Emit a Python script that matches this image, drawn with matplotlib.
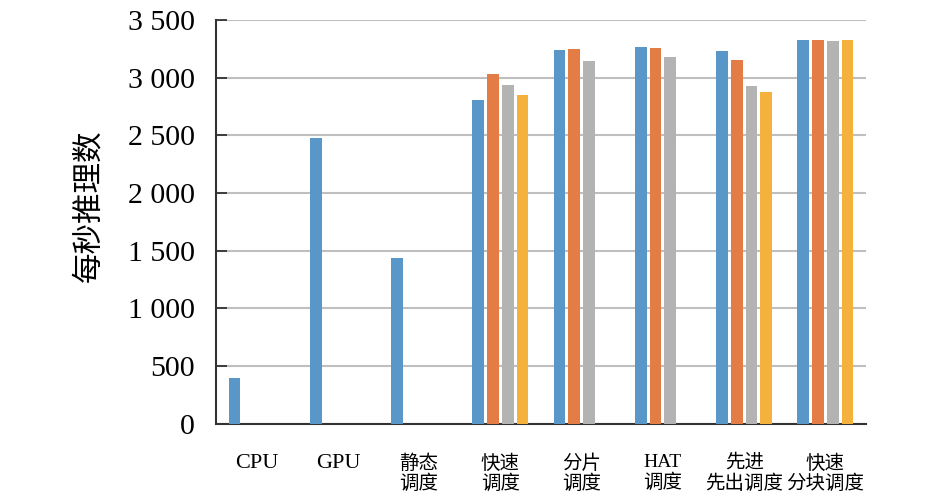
import numpy as np
import matplotlib.pyplot as plt
from matplotlib.ticker import FuncFormatter

plt.rcParams["font.family"] = ["Liberation Serif", "Noto Sans CJK SC"]

categories = ["CPU", "GPU", "静态\n调度", "快速\n调度", "分片\n调度", "HAT\n调度", "先进\n先出调度", "快速\n分块调度"]

# four series per category; NaN where no bar is drawn
series_a = [395, 2478, 1440, 2806, 3243, 3263, 3231, 3324]
series_b = [np.nan, np.nan, np.nan, 3030, 3246, 3257, 3153, 3324]
series_c = [np.nan, np.nan, np.nan, 2939, 3145, 3177, 2928, 3321]
series_d = [np.nan, np.nan, np.nan, 2847, np.nan, np.nan, 2876, 3327]

colors = ["#5a97c9", "#e47c45", "#b3b3b3", "#f4b23c"]

fig = plt.figure(figsize=(9.45, 4.96), dpi=100)
ax = fig.add_axes([0.2286, 0.146, 0.6878, 0.8137])

x = np.arange(len(categories))
slot = 0.182
width = 0.144
for k, (vals, color) in enumerate(zip([series_a, series_b, series_c, series_d], colors)):
    ax.bar(x + (k - 1.5) * slot, vals, width=width, color=color, zorder=3)

ax.set_xlim(-0.5, len(categories) - 0.5)
ax.set_ylim(0, 3500)
ax.set_yticks(np.arange(0, 3501, 500))
ax.yaxis.set_major_formatter(FuncFormatter(lambda v, _: f"{int(v):,}".replace(",", " ")))
ax.grid(axis="y", color="#bfbfbf", linewidth=1.5, zorder=0)

ax.set_xticks(x)
ax.set_xticklabels(categories, fontsize=14, linespacing=1.15)
for lab in ax.get_xticklabels():
    if "\n" not in lab.get_text():
        lab.set_fontsize(16)
ax.tick_params(axis="x", length=0, pad=22)
ax.tick_params(axis="y", direction="in", length=8, width=1.3, color="#333333",
               labelsize=21.5, pad=15)

for side in ["top", "right"]:
    ax.spines[side].set_visible(False)
for side in ["left", "bottom"]:
    ax.spines[side].set_linewidth(1.5)
    ax.spines[side].set_color("#333333")

ax.set_ylabel("每秒推理数", fontsize=22)
ax.yaxis.set_label_coords(-0.172, 0.54)

fig.savefig("out.png", dpi=100)
